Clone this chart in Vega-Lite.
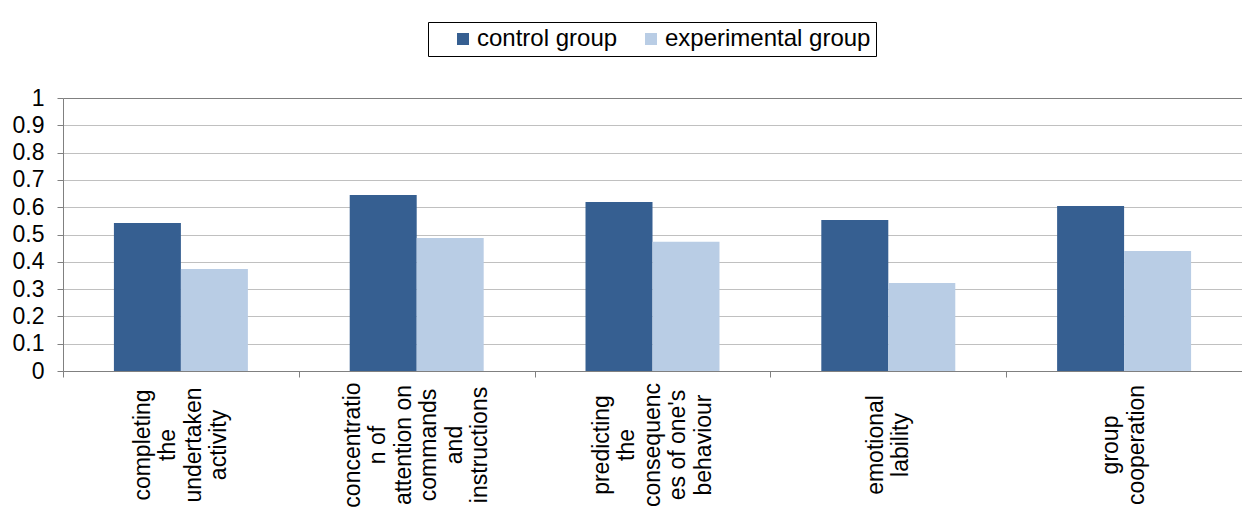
{
  "$schema": "https://vega.github.io/schema/vega-lite/v6.json",
  "width": 1179,
  "height": 273,
  "autosize": "none",
  "padding": {"left": 63, "top": 98, "right": 0, "bottom": 142},
  "background": "white",
  "config": {"view": {"stroke": null}, "font": "Liberation Sans"},
  "encoding": {
    "x": {
      "field": "category",
      "type": "nominal",
      "sort": null,
      "scale": {"paddingInner": 0, "paddingOuter": 0},
      "axis": {
        "title": null,
        "tickBand": "extent",
        "tickSize": 6,
        "tickColor": "#808080",
        "domainColor": "#808080",
        "labels": false
      }
    }
  },
  "layer": [
    {
      "data": {
        "values": [
          {"category": "completing|the|undertaken|activity", "group": "control group", "value": 0.542},
          {"category": "completing|the|undertaken|activity", "group": "experimental group", "value": 0.374},
          {"category": "concentratio|n of|attention on|commands|and|instructions", "group": "control group", "value": 0.645},
          {"category": "concentratio|n of|attention on|commands|and|instructions", "group": "experimental group", "value": 0.487},
          {"category": "predicting|the|consequenc|es of one's|behaviour", "group": "control group", "value": 0.619},
          {"category": "predicting|the|consequenc|es of one's|behaviour", "group": "experimental group", "value": 0.473},
          {"category": "emotional|lability", "group": "control group", "value": 0.553},
          {"category": "emotional|lability", "group": "experimental group", "value": 0.322},
          {"category": "group|cooperation", "group": "control group", "value": 0.604},
          {"category": "group|cooperation", "group": "experimental group", "value": 0.44}
        ]
      },
      "mark": {"type": "bar"},
      "encoding": {
        "xOffset": {
          "field": "group",
          "sort": ["control group", "experimental group"],
          "scale": {"paddingInner": 0, "paddingOuter": 0.76}
        },
        "y": {
          "field": "value",
          "type": "quantitative",
          "scale": {"domain": [0, 1], "nice": false},
          "axis": {
            "title": null,
            "values": [0, 0.1, 0.2, 0.3, 0.4, 0.5, 0.6, 0.7, 0.8, 0.9, 1],
            "format": "~g",
            "labelFontSize": 23,
            "labelColor": "black",
            "labelPadding": 13,
            "tickSize": 6,
            "tickColor": "#808080",
            "domainColor": "#808080",
            "gridColor": {"condition": {"test": "datum.value === 1", "value": "#808080"}, "value": "#c0c0c0"}
          }
        },
        "color": {
          "field": "group",
          "type": "nominal",
          "scale": {"domain": ["control group", "experimental group"], "range": ["#365F91", "#B9CDE5"]},
          "legend": {
            "orient": "none",
            "legendX": 365,
            "legendY": -76,
            "direction": "horizontal",
            "title": null,
            "labelFontSize": 24,
            "labelColor": "black",
            "labelLimit": 600,
            "symbolType": "square",
            "symbolSize": 144,
            "symbolStrokeWidth": 0,
            "labelOffset": 2,
            "columnPadding": 3,
            "padding": 5,
            "symbolOffset": 18,
            "strokeColor": "black"
          }
        }
      }
    },
    {
      "data": {
        "values": [
          {"category": "completing|the|undertaken|activity", "lines": ["completing", "the", "undertaken", "activity"]},
          {"category": "concentratio|n of|attention on|commands|and|instructions", "lines": ["concentratio", "n of", "attention on", "commands", "and", "instructions"]},
          {"category": "predicting|the|consequenc|es of one's|behaviour", "lines": ["predicting", "the", "consequenc", "es of one's", "behaviour"]},
          {"category": "emotional|lability", "lines": ["emotional", "lability"]},
          {"category": "group|cooperation", "lines": ["group", "cooperation"]}
        ]
      },
      "mark": {
        "type": "text",
        "angle": 270,
        "align": "center",
        "baseline": "middle",
        "fontSize": 23,
        "lineHeight": 25.5,
        "color": "black",
        "dx": -74,
        "dy": {"expr": "-(length(datum.lines) - 1) * 12.75"}
      },
      "encoding": {
        "y": {
          "datum": 0,
          "type": "quantitative",
          "scale": {"domain": [0, 1], "nice": false},
          "axis": {
            "title": null,
            "values": [0, 0.1, 0.2, 0.3, 0.4, 0.5, 0.6, 0.7, 0.8, 0.9, 1],
            "format": "~g",
            "labelFontSize": 23,
            "labelColor": "black",
            "labelPadding": 13,
            "tickSize": 6,
            "tickColor": "#808080",
            "domainColor": "#808080",
            "gridColor": {"condition": {"test": "datum.value === 1", "value": "#808080"}, "value": "#c0c0c0"}
          }
        },
        "text": {"field": "lines", "type": "nominal"}
      }
    }
  ]
}
